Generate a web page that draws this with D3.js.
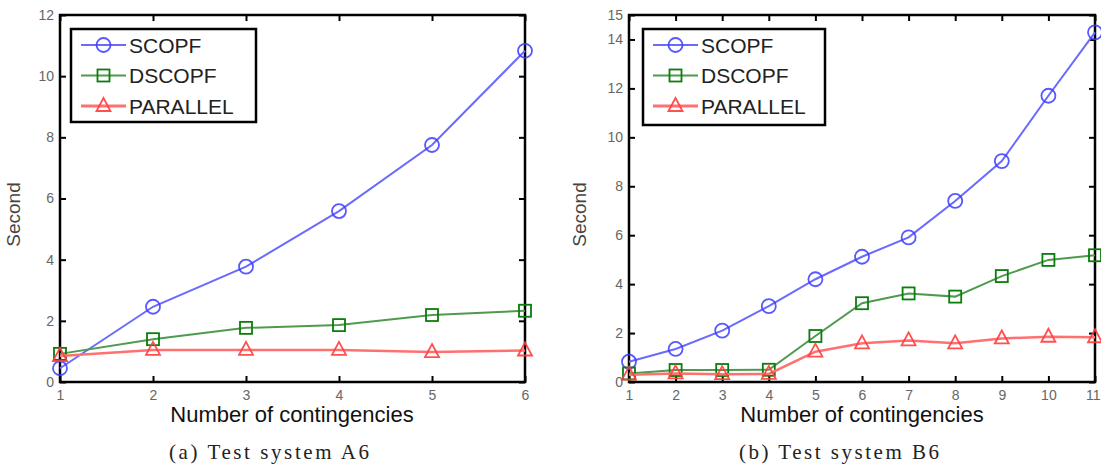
<!DOCTYPE html>
<html>
<head>
<meta charset="utf-8">
<script src="https://cdn.jsdelivr.net/npm/d3@7"></script>
<style>
  body { margin: 0; background: #fff; }
  svg { display: block; }
</style>
</head>
<body>
<div id="chart"></div>
<script>
// two panels, same series names
const seriesNames = ['SCOPF', 'DSCOPF', 'PARALLEL'];

// (a) Test system A6
const contA = [1, 2, 3, 4, 5, 6];
const scopfA = [0.45, 2.46, 3.77, 5.59, 7.75, 10.83];
const dscopfA = [0.92, 1.40, 1.77, 1.86, 2.19, 2.33];
const parallelA = [0.85, 1.05, 1.05, 1.05, 0.98, 1.03];
const yTicksA = [0, 2, 4, 6, 8, 10, 12];

// (b) Test system B6
const contB = [1, 2, 3, 4, 5, 6, 7, 8, 9, 10, 11];
const scopfB = [0.83, 1.35, 2.10, 3.10, 4.20, 5.12, 5.91, 7.40, 9.03, 11.70, 14.29];
const dscopfB = [0.35, 0.49, 0.49, 0.50, 1.88, 3.22, 3.62, 3.49, 4.33, 4.99, 5.18];
const parallelB = [0.30, 0.35, 0.32, 0.33, 1.24, 1.58, 1.70, 1.58, 1.78, 1.85, 1.83];
const yTicksB = [0, 2, 4, 6, 8, 10, 12, 14, 15];

const width = 1101;
const height = 468;

const colors = {SCOPF: '#3b3bff', DSCOPF: '#0a7d0a', PARALLEL: '#ff3c3c'};
const lineColors = {SCOPF: '#6a6aff', DSCOPF: '#4f9a4f', PARALLEL: '#ff7070'};

const svg = d3.select('#chart').append('svg')
  .attr('width', width)
  .attr('height', height)
  .style('font-family', '"Liberation Sans", Arial, sans-serif');

const panels = [
  {cont: contA, series: [scopfA, dscopfA, parallelA], yMax: 12, yTicks: yTicksA,
   left: 60, right: 525, top: 15, bottom: 382,
   legend: {x: 71, y: 29, w: 185, h: 93},
   ylabelX: 20, xlabelX: 292, caption: '(a)  Test system A6', captionX: 269},
  {cont: contB, series: [scopfB, dscopfB, parallelB], yMax: 15, yTicks: yTicksB,
   left: 629, right: 1095, top: 15, bottom: 382,
   legend: {x: 643, y: 29, w: 182, h: 96},
   ylabelX: 586, xlabelX: 862, caption: '(b)  Test system B6', captionX: 839}
];

function marker(g, name, cx, cy) {
  const c = colors[name];
  if (name === 'SCOPF') {
    g.append('circle').attr('cx', cx).attr('cy', cy).attr('r', 7)
      .attr('fill', 'none').attr('stroke', c).attr('stroke-width', 1.8).attr('opacity', 0.85);
  } else if (name === 'DSCOPF') {
    g.append('rect').attr('x', cx - 6).attr('y', cy - 6).attr('width', 12).attr('height', 12)
      .attr('fill', 'none').attr('stroke', c).attr('stroke-width', 1.8);
  } else {
    g.append('path').attr('d', `M${cx},${cy - 8}L${cx + 7},${cy + 5}L${cx - 7},${cy + 5}Z`)
      .attr('fill', 'none').attr('stroke', c).attr('stroke-width', 1.8).attr('opacity', 0.9);
  }
}

panels.forEach(p => {
  const x = d3.scaleLinear()
    .domain(d3.extent(p.cont))
    .range([p.left, p.right]);

  const y = d3.scaleLinear()
    .domain([0, p.yMax])
    .range([p.bottom, p.top]);

  const g = svg.append('g');

  // bottom / left axes with labels, ticks pointing inward
  g.append('g')
    .attr('transform', `translate(0,${p.bottom})`)
    .call(d3.axisBottom(x).tickValues(p.cont).tickFormat(d3.format('d')).tickSize(-6).tickPadding(8))
    .call(g => g.select('.domain').remove())
    .call(g => g.selectAll('line').attr('stroke', '#000').attr('stroke-width', 2))
    .call(g => g.selectAll('text').attr('font-size', 14).attr('fill', '#666')
      .attr('font-family', '"Liberation Sans", Arial, sans-serif'))
    // last label sits at the page edge, keep it inside
    .call(g => g.selectAll('.tick:last-of-type text').filter(d => d >= 10)
      .attr('text-anchor', 'end').attr('dx', 5));

  g.append('g')
    .attr('transform', `translate(${p.left},0)`)
    .call(d3.axisLeft(y).tickValues(p.yTicks).tickSize(-6).tickPadding(6))
    .call(g => g.select('.domain').remove())
    .call(g => g.selectAll('line').attr('stroke', '#000').attr('stroke-width', 2))
    .call(g => g.selectAll('text').attr('font-size', 14).attr('fill', '#666')
      .attr('font-family', '"Liberation Sans", Arial, sans-serif'));

  // top / right ticks (box on)
  g.append('g')
    .attr('transform', `translate(0,${p.top})`)
    .call(d3.axisTop(x).tickValues(p.cont).tickSize(-6).tickFormat(''))
    .call(g => g.select('.domain').remove())
    .call(g => g.selectAll('line').attr('stroke', '#000').attr('stroke-width', 2));

  g.append('g')
    .attr('transform', `translate(${p.right},0)`)
    .call(d3.axisRight(y).tickValues(p.yTicks).tickSize(-6).tickFormat(''))
    .call(g => g.select('.domain').remove())
    .call(g => g.selectAll('line').attr('stroke', '#000').attr('stroke-width', 2));

  g.append('rect')
    .attr('x', p.left).attr('y', p.top)
    .attr('width', p.right - p.left).attr('height', p.bottom - p.top)
    .attr('fill', 'none').attr('stroke', '#000').attr('stroke-width', 2.5);

  // series
  p.series.forEach((vals, i) => {
    const name = seriesNames[i];
    const data = p.cont.map((c, j) => ({c: c, v: vals[j]}));
    const line = d3.line()
      .x(d => x(d.c))
      .y(d => y(d.v));
    g.append('path')
      .datum(data)
      .attr('fill', 'none')
      .attr('stroke', lineColors[name])
      .attr('stroke-width', name === 'PARALLEL' ? 2.5 : 2)
      .attr('d', line);
    const mg = g.append('g');
    data.forEach(d => marker(mg, name, x(d.c), y(d.v)));
  });

  // legend
  const lg = g.append('g');
  lg.append('rect')
    .attr('x', p.legend.x).attr('y', p.legend.y)
    .attr('width', p.legend.w).attr('height', p.legend.h)
    .attr('fill', '#fff').attr('stroke', '#000').attr('stroke-width', 2.5);
  seriesNames.forEach((name, i) => {
    const ly = p.legend.y + 16 + i * 30.5;
    const lx = p.legend.x + 10;
    lg.append('line')
      .attr('x1', lx).attr('x2', lx + 45)
      .attr('y1', ly).attr('y2', ly)
      .attr('stroke', lineColors[name]).attr('stroke-width', name === 'PARALLEL' ? 3 : 2);
    marker(lg, name, lx + 22.5, ly);
    lg.append('text')
      .attr('x', lx + 48).attr('y', ly)
      .attr('dy', '0.36em')
      .attr('font-size', 21)
      .attr('fill', '#222')
      .text(name);
  });

  // axis titles
  g.append('text')
    .attr('x', p.xlabelX).attr('y', p.bottom + 40)
    .attr('text-anchor', 'middle')
    .attr('font-size', 22)
    .attr('fill', '#111')
    .text('Number of contingencies');

  g.append('text')
    .attr('transform', `translate(${p.ylabelX},${(p.top + p.bottom) / 2 + 16}) rotate(-90)`)
    .attr('text-anchor', 'middle')
    .attr('font-size', 19)
    .attr('fill', '#444')
    .text('Second');

  g.append('text')
    .attr('x', p.captionX).attr('y', 459)
    .attr('text-anchor', 'middle')
    .attr('font-size', 21)
    .attr('textLength', 200)
    .attr('lengthAdjust', 'spacing')
    .attr('font-family', '"Liberation Serif", "DejaVu Serif", serif')
    .attr('fill', '#222')
    .text(p.caption);
});
</script>
</body>
</html>
